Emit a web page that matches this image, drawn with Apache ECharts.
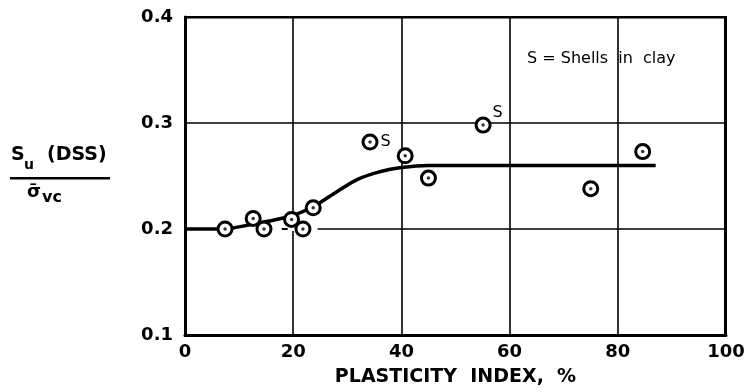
<!DOCTYPE html>
<html>
<head>
<meta charset="utf-8">
<script src="https://cdn.jsdelivr.net/npm/echarts@6/dist/echarts.min.js"></script>
<style>html,body{margin:0;padding:0;background:#fff}#c{width:751px;height:392px}</style>
</head>
<body>
<div id="c"></div>
<script>
// Data
var pointsX = [7.4, 12.6, 14.6, 19.7, 21.8, 23.7, 34.2, 40.7, 45.0, 55.1, 75.0, 84.6];
var pointsY = [0.200, 0.210, 0.200, 0.209, 0.200, 0.220, 0.282, 0.269, 0.248, 0.298, 0.238, 0.273];
var pointLabels = ['', '', '', '', '\u2013', '', 'S', '', '', 'S', '', ''];
var curveX = [0, 7, 10, 15, 20, 24, 28, 32, 36, 40, 45, 60, 87];
var curveY = [0.200, 0.200, 0.202, 0.207, 0.213, 0.222, 0.235, 0.247, 0.254, 0.258, 0.260, 0.260, 0.260];
// stretch of the 0.2 grid line that is left blank in the original print
var gridGapX = [8.5, 24.5];
var gridGapY = 0.2;
var xTicks = [0, 20, 40, 60, 80, 100];
var yTicks = [0.1, 0.2, 0.3, 0.4];

var FONT = 'DejaVu Sans';
function pts() {
  return pointsX.map(function (x, i) {
    var item = {value: [x, pointsY[i]]};
    var t = pointLabels[i];
    if (t) {
      var lab = {show: true, formatter: t, color: '#000', fontFamily: FONT, fontSize: 15, fontWeight: 'normal'};
      if (t === 'S' && i === 6) { lab.position = 'right'; lab.distance = 2; lab.fontSize = 16; }
      else if (t === 'S') { lab.position = 'right'; lab.distance = 1; lab.offset = [0, -12]; lab.fontSize = 16; }
      else { lab.position = 'left'; lab.distance = 6; lab.fontWeight = 'bold'; }
      item.label = lab;
    }
    return item;
  });
}
var curve = curveX.map(function (x, i) { return [x, curveY[i]]; });
var gap = gridGapX.map(function (x) { return [x, gridGapY]; });

var chart = echarts.init(document.getElementById('c'));
chart.setOption({
  animation: false,
  backgroundColor: '#fff',
  grid: {left: 185, right: 25, top: 17, bottom: 57},
  xAxis: {
    type: 'value', min: 0, max: 100, interval: 20,
    axisLine: {show: true, onZero: false, lineStyle: {color: '#000', width: 3}},
    axisTick: {show: false},
    splitLine: {show: true, lineStyle: {color: '#000', width: 1.6}},
    axisLabel: {color: '#000', fontFamily: FONT, fontWeight: 'bold', fontSize: 18, margin: 8,
      formatter: function (v) { return xTicks.indexOf(v) >= 0 ? String(v) : ''; }},
    name: 'PLASTICITY  INDEX,  %', nameLocation: 'middle', nameGap: 33,
    nameTextStyle: {color: '#000', fontFamily: FONT, fontWeight: 'bold', fontSize: 19}
  },
  yAxis: {
    type: 'value', min: 0.1, max: 0.4, interval: 0.1,
    axisLine: {show: true, onZero: false, lineStyle: {color: '#000', width: 3}},
    axisTick: {show: false},
    splitLine: {show: true, lineStyle: {color: '#000', width: 1.6}},
    axisLabel: {color: '#000', fontFamily: FONT, fontWeight: 'bold', fontSize: 18, margin: 12,
      formatter: function (v) { return v.toFixed(1); }}
  },
  graphic: [
    {type: 'rect', left: 724, top: 16, shape: {width: 3, height: 319}, style: {fill: '#000'}, z: 10},
    {type: 'rect', left: 184, top: 16, shape: {width: 543, height: 2.6}, style: {fill: '#000'}, z: 10},
    {type: 'text', left: 11, top: 146, style: {text: 'S', font: 'bold 19px "DejaVu Sans"', fill: '#000'}},
    {type: 'text', left: 24, top: 158, style: {text: 'u', font: 'bold 14px "DejaVu Sans"', fill: '#000'}},
    {type: 'text', left: 47, top: 146, style: {text: '(DSS)', font: 'bold 19px "DejaVu Sans"', fill: '#000'}},
    {type: 'rect', left: 10, top: 177, shape: {width: 100, height: 2.5}, style: {fill: '#000'}},
    {type: 'text', left: 27, top: 183, style: {text: '\u03c3\u0304', font: 'bold 18px "DejaVu Sans"', fill: '#000'}},
    {type: 'text', left: 42, top: 190, style: {text: 'vc', font: 'bold 16px "DejaVu Sans"', fill: '#000'}},
    {type: 'text', left: 527, top: 51, style: {text: 'S = Shells  in  clay', font: '16px "DejaVu Sans"', fill: '#000'}}
  ],
  series: [
    {
      type: 'line', data: gap, symbol: 'none', silent: true,
      lineStyle: {color: '#fff', width: 4}, z: 2
    },
    {
      type: 'line', data: curve, smooth: 0.4, showSymbol: false, symbol: 'none',
      lineStyle: {color: '#000', width: 3.5}, z: 3
    },
    {
      type: 'scatter', data: pts(), symbol: 'circle', symbolSize: 14,
      itemStyle: {color: '#fff', borderColor: '#000', borderWidth: 3, opacity: 1}, z: 4
    },
    {
      type: 'scatter', data: pointsX.map(function (x, i) { return [x, pointsY[i]]; }),
      symbol: 'circle', symbolSize: 3.5, itemStyle: {color: '#000'}, z: 5, silent: true
    }
  ]
});
</script>
</body>
</html>
